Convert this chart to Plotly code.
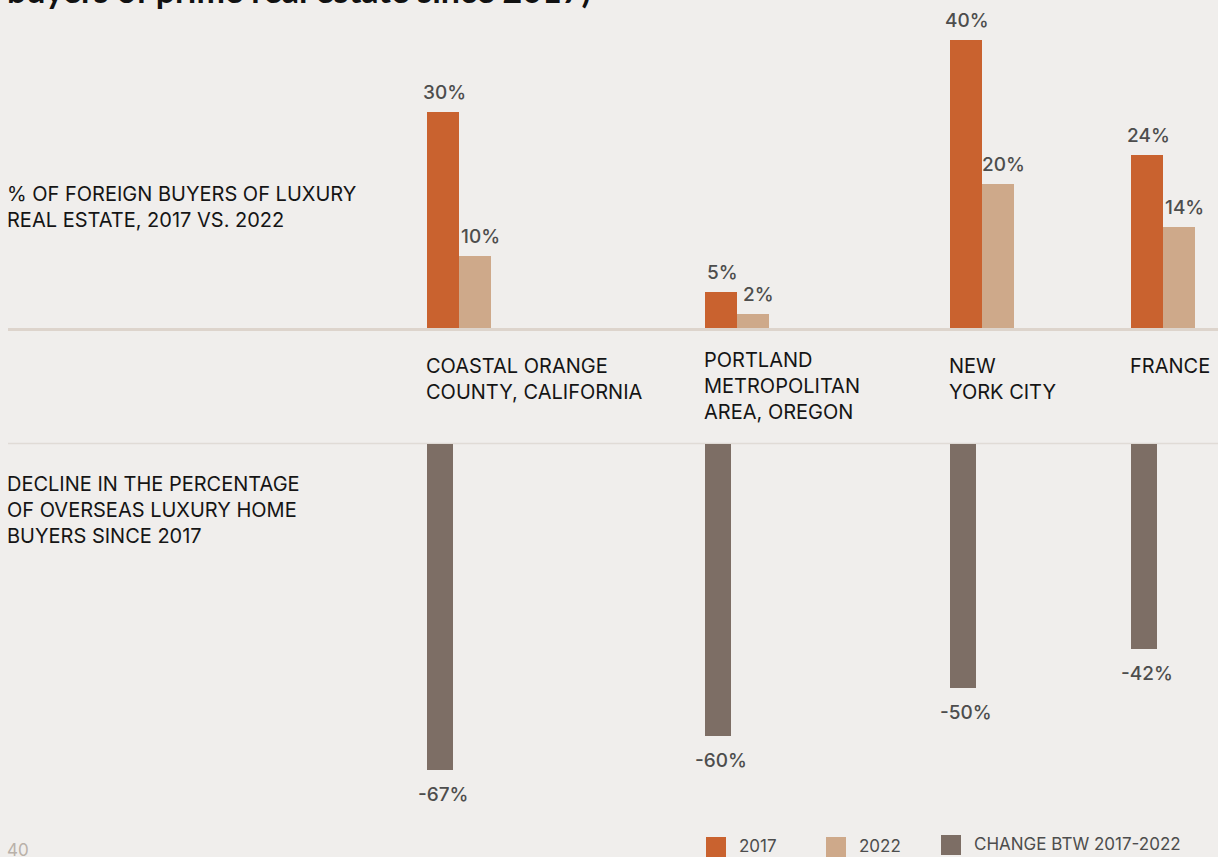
import plotly.graph_objects as go

# ---- data -------------------------------------------------------------
markets = [
    "COASTAL ORANGE<br>COUNTY, CALIFORNIA",
    "PORTLAND<br>METROPOLITAN<br>AREA, OREGON",
    "NEW<br>YORK CITY",
    "FRANCE",
]
share_2017 = [30, 5, 40, 24]
share_2022 = [10, 2, 20, 14]
change_2017_2022 = [-67, -60, -50, -42]

# ---- layout constants (pixels on a 1218 x 857 canvas) -------------------
W, H = 1218, 857
group_left = [427, 705, 950, 1131]      # left edge of each market group
label_top = [352, 346, 352, 352]       # top of each market label box
top_bar_w = 32
low_bar_w = 26
top_base_px = 328                      # zero line of the upper panel
top_px_per_unit = 7.2
low_base_px = 444                      # zero line of the lower panel
low_px_per_unit = 4.87

BG = "#f0eeec"
C17 = "#c9622f"
C22 = "#cea98a"
CCHG = "#7d6e65"
VAL = "#4d4d4d"
INK = "#151515"
FONT = "Inter"


def py(p):
    """pixel row -> paper y"""
    return 1 - p / H


def px(p):
    return p / W


fig = go.Figure()

x17 = [g + top_bar_w / 2 for g in group_left]
x22 = [g + top_bar_w * 1.5 for g in group_left]
xchg = [g + low_bar_w / 2 for g in group_left]

fig.add_trace(go.Bar(x=x17, y=share_2017, width=top_bar_w, marker_color=C17,
                     marker_line_width=0, name="2017", xaxis="x", yaxis="y",
                     showlegend=False, hoverinfo="skip"))
fig.add_trace(go.Bar(x=x22, y=share_2022, width=top_bar_w, marker_color=C22,
                     marker_line_width=0, name="2022", xaxis="x", yaxis="y",
                     showlegend=False, hoverinfo="skip"))
fig.add_trace(go.Bar(x=xchg, y=change_2017_2022, width=low_bar_w, marker_color=CCHG,
                     marker_line_width=0, name="CHANGE BTW 2017-2022",
                     xaxis="x2", yaxis="y2", showlegend=False, hoverinfo="skip"))

ann = []
vfont = dict(family=FONT, size=19, color=VAL, weight=500)
for xs, vals, dx in ((x17, share_2017, 1), (x22, share_2022, 5)):
    for x, v in zip(xs, vals):
        ann.append(dict(x=x + dx, y=v, xref="x", yref="y", text=f"{v}%",
                        showarrow=False, xanchor="center", yanchor="bottom",
                        yshift=6, font=vfont))
for x, v in zip(xchg, change_2017_2022):
    ann.append(dict(x=x + 3, y=v, xref="x2", yref="y2", text=f"{v}%",
                    showarrow=False, xanchor="center", yanchor="top",
                    yshift=-11, font=vfont))

# market names between the panels
for g, t, name in zip(group_left, label_top, markets):
    ann.append(dict(x=px(g), y=py(t), xref="paper", yref="paper", text=name,
                    showarrow=False, xanchor="left", yanchor="top", align="left",
                    xshift=-3, font=dict(family=FONT, size=20, color=INK)))

# panel captions on the left
ann.append(dict(x=px(8), y=py(180), xref="paper", yref="paper",
                text="% OF FOREIGN BUYERS OF LUXURY<br>REAL ESTATE, 2017 VS. 2022",
                showarrow=False, xanchor="left", yanchor="top", align="left",
                xshift=-3, font=dict(family=FONT, size=20, color=INK)))
ann.append(dict(x=px(8), y=py(470), xref="paper", yref="paper",
                text="DECLINE IN THE PERCENTAGE<br>OF OVERSEAS LUXURY HOME<br>BUYERS SINCE 2017",
                showarrow=False, xanchor="left", yanchor="top", align="left",
                xshift=-3, font=dict(family=FONT, size=20, color=INK)))

# heading line running off the top edge
ann.append(dict(x=px(5), y=py(12), xref="paper", yref="paper",
                text="buyers of prime real estate since 2017)",
                showarrow=False, xanchor="left", yanchor="bottom", align="left",
                font=dict(family="Lato", size=34, color="#111111", weight=700)))

# page number
ann.append(dict(x=px(8), y=py(838), xref="paper", yref="paper", text="40",
                showarrow=False, xanchor="left", yanchor="top", xshift=-3,
                font=dict(family=FONT, size=17, color="#b9b1a9")))

# legend
legend_items = [("2017", C17, 706, 837), ("2022", C22, 826, 837),
                ("CHANGE BTW 2017-2022", CCHG, 941, 835)]
shapes = []
for label, col, lx, ly in legend_items:
    shapes.append(dict(type="rect", xref="paper", yref="paper",
                       x0=px(lx), x1=px(lx + 20), y0=py(ly + 20), y1=py(ly),
                       fillcolor=col, line_width=0))
    ann.append(dict(x=px(lx + 31), y=py(ly + 9), xref="paper", yref="paper",
                    text=label, showarrow=False, xanchor="left", yanchor="middle",
                    font=dict(family=FONT, size=17, color=VAL)))

# panel rules
shapes.append(dict(type="line", xref="paper", yref="paper", layer="below",
                   x0=px(8), x1=1, y0=py(329.5), y1=py(329.5),
                   line=dict(color="#ddd4cc", width=3)))
shapes.append(dict(type="line", xref="paper", yref="paper", layer="below",
                   x0=px(8), x1=1, y0=py(443.5), y1=py(443.5),
                   line=dict(color="#e0dbd6", width=1.5)))

axis_common = dict(showgrid=False, zeroline=False, showticklabels=False,
                   ticks="", showline=False, fixedrange=True)

fig.update_layout(
    width=W, height=H,
    margin=dict(l=0, r=0, t=0, b=0),
    paper_bgcolor=BG, plot_bgcolor=BG,
    barmode="overlay", bargap=0,
    showlegend=False,
    xaxis=dict(range=[0, W], domain=[0, 1], anchor="y", **axis_common),
    yaxis=dict(range=[0, top_base_px / top_px_per_unit],
               domain=[py(top_base_px), 1], anchor="x", **axis_common),
    xaxis2=dict(range=[0, W], domain=[0, 1], anchor="y2", **axis_common),
    yaxis2=dict(range=[-(H - low_base_px) / low_px_per_unit, 0],
                domain=[0, py(low_base_px)], anchor="x2", **axis_common),
    annotations=ann,
    shapes=shapes,
)

fig.write_html("out.html")
